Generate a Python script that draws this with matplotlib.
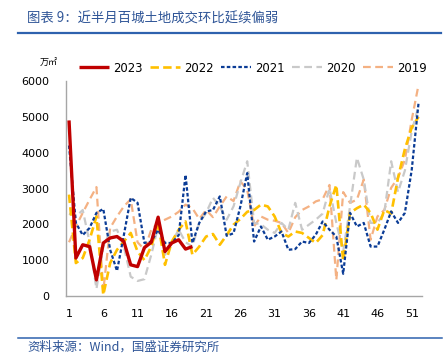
# ================================================    Modules import     =====================================================

import numpy as np
import matplotlib
matplotlib.use("Agg")
import matplotlib.pyplot as plt
from matplotlib.lines import Line2D

# ================================================          Data          ================================================

weeks = list(range(1, 53))
x_ticks = [1, 6, 11, 16, 21, 26, 31, 36, 41, 46, 51]
y_ticks = [0, 1000, 2000, 3000, 4000, 5000, 6000]

v2023 = [4900, 1060, 1430, 1380, 450, 1480, 1620, 1660, 1520, 870,
         820, 1350, 1500, 2200, 1240, 1480, 1570, 1310, 1380]

v2022 = [2830, 920, 1060, 1570, 2220, 30, 920, 1290, 1520, 1760,
         1240, 1000, 1380, 2040, 870, 1520, 1850, 2080, 1150, 1380,
         1660, 1730, 1430, 1700, 1990, 2150, 2350, 2400, 2550, 2500,
         2220, 1760, 1660, 1800, 1760, 1620, 1480, 1700, 2500, 3100,
         980, 2320, 2450, 2550, 2320, 1850, 2400, 2300, 3300, 4100, 4700, 5000]

v2021 = [4200, 2040, 1700, 1900, 2320, 2430, 1290, 700, 1700, 2740,
         2600, 1480, 1520, 1850, 1480, 1480, 1700, 3380, 1480, 2040,
         2360, 2400, 2780, 1680, 1750, 2500, 3430, 1520, 1940, 1570,
         1660, 1800, 1290, 1310, 1520, 1480, 1710, 2080, 1850, 1660,
         620, 2320, 1940, 2040, 1380, 1380, 1850, 2360, 2040, 2320, 3520, 5400]

v2020 = [2300, 2220, 2400, 1500, 200, 1380, 1800, 1850, 1380, 540,
         420, 470, 1150, 1940, 1150, 1500, 1850, 1500, 1380, 2040,
         2320, 2740, 2500, 2130, 2500, 3160, 3760, 2040, 2000, 1850,
         1760, 2040, 1850, 2600, 1850, 1990, 2130, 2300, 3000, 2040,
         1240, 2500, 3860, 3250, 2040, 2040, 2320, 3760, 2900, 3500, 4600, 5300]

v2019 = [1500, 1940, 2320, 2690, 3040, 150, 1900, 2220, 2500, 2700,
         1500, 1300, 1850, 2040, 2130, 2220, 2350, 2550, 2450, 2150,
         2400, 2200, 2500, 2780, 2650, 3200, 2960, 1940, 2220, 2130,
         2100, 2040, 1760, 2200, 2400, 2500, 2640, 2700, 3100, 450,
         2900, 2600, 2690, 3250, 1570, 2220, 2400, 3020, 3300, 3800, 4920, 5900]

# ================================================          Styles          ================================================

cjk = ["Noto Sans CJK SC", "DejaVu Sans"]
blue_txt = "#2F5597"

series = [
    # label, values, color, width, dashes, zorder
    ("2023", v2023, "#C00000", 2.4, None, 6),
    ("2022", v2022, "#FFC000", 1.9, (3.2, 1.6), 4),
    ("2021", v2021, "#0B3C96", 1.6, (1.6, 1.0), 5),
    ("2020", v2020, "#C9C9C9", 1.6, (3.5, 2.0), 3),
    ("2019", v2019, "#F4B183", 1.6, (3.5, 2.0), 2),
]

# ================================================          Plot          ================================================

fig = plt.figure(figsize=(4.43, 3.62), dpi=100)
ax = fig.add_axes([0.149, 0.1823, 0.803, 0.5939])

handles = []
for label, vals, color, lw, dashes, z in series:
    xs = weeks[:len(vals)]
    line, = ax.plot(xs, vals, color=color, lw=lw, zorder=z,
                    solid_capstyle="butt", dash_capstyle="butt")
    if dashes is not None:
        line.set_dashes(dashes)
    handles.append(line)

ax.set_xlim(0.56, 52.46)
ax.set_ylim(0, 6000)
ax.set_xticks(x_ticks)
ax.set_yticks(y_ticks)
ax.tick_params(axis="both", length=0, labelsize=8.0, colors="#000000")
ax.tick_params(axis="y", pad=12)
ax.tick_params(axis="x", pad=9)

for side in ["top", "right"]:
    ax.spines[side].set_visible(False)
for side in ["left", "bottom"]:
    ax.spines[side].set_color("#A6A6A6")
    ax.spines[side].set_linewidth(1.0)

# Legend above the plot area
fig.legend(handles=handles, labels=[s[0] for s in series], loc="center",
           bbox_to_anchor=(0.571, 0.812), ncol=5, frameon=False,
           fontsize=8.4, handlelength=2.6, handletextpad=0.35,
           columnspacing=0.6, borderpad=0.2)

# Unit label
fig.text(0.09, 0.826, "万㎡", fontsize=6.5, family=cjk, ha="left", va="center")

# Title and source with blue rules
fig.text(0.061, 0.95, "图表 9：近半月百城土地成交环比延续偏弱", fontsize=9.6,
         family=cjk, color=blue_txt, style="italic", ha="left", va="center")
fig.add_artist(Line2D([0.041, 0.995], [0.908, 0.908], color="#2E62AE", lw=1.6))
fig.add_artist(Line2D([0.041, 0.997], [0.066, 0.066], color="#2E62AE", lw=1.1))
fig.text(0.061, 0.041, "资料来源：Wind，国盛证券研究所", fontsize=9.0,
         family=cjk, color=blue_txt, style="italic", ha="left", va="center")

fig.savefig("out.png", dpi=100)
plt.close(fig)
